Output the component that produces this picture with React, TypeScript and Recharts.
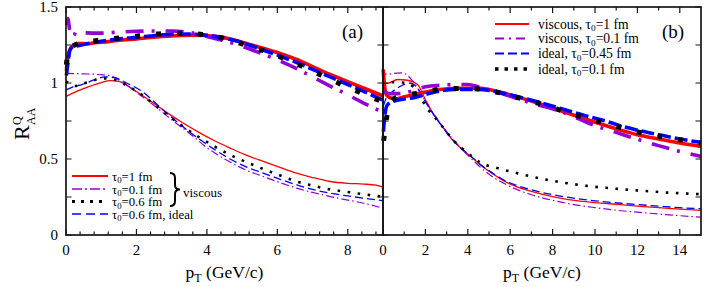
import React from 'react';
import { LineChart, Line, XAxis, YAxis, Legend } from 'recharts';

const FONT = '"Liberation Serif", "Times New Roman", "DejaVu Serif", serif';
const RED = '#ff0000';
const PURPLE = '#9400d3';
const BLUE = '#0000ff';
const BLACK = '#000000';
const FRAME = '#161616';

// ---------- tick labels ----------
const aXTicks = [0, 0.4, 0.8, 1.2, 1.6, 2, 2.4, 2.8, 3.2, 3.6, 4, 4.4, 4.8, 5.2, 5.6, 6, 6.4, 6.8, 7.2, 7.6, 8, 8.4, 8.8];
const aXMajor = [0, 2, 4, 6, 8];
const bXTicks = [0, 1, 2, 3, 4, 5, 6, 7, 8, 9, 10, 11, 12, 13, 14];
const bXMajor = [0, 2, 4, 6, 8, 10, 12, 14];
const yTicks = [0, 0.25, 0.5, 0.75, 1, 1.25, 1.5];
const yMajor = [0, 0.5, 1, 1.5];

// ---------- panel (a) : thick (upper) curves ----------
const aRedHi: [number, number][] = [[0.01, 1.08], [0.05, 1.17], [0.1, 1.215], [0.2, 1.245], [0.35, 1.26], [0.6, 1.258], [0.8, 1.265], [1.2, 1.272], [1.6, 1.283], [2, 1.29], [2.5, 1.302], [3, 1.31], [3.5, 1.315], [3.95, 1.313], [4.3, 1.305], [4.66, 1.29], [5.1, 1.262], [5.6, 1.228], [6.1, 1.192], [6.55, 1.155], [7, 1.108], [7.5, 1.056], [8, 1.008], [8.5, 0.962], [9, 0.915]];
const aPurpleHi: [number, number][] = [[0.02, 1.38], [0.05, 1.424], [0.11, 1.345], [0.21, 1.312], [0.3, 1.34], [0.5, 1.33], [1, 1.328], [1.5, 1.335], [2, 1.34], [2.5, 1.342], [3, 1.342], [3.5, 1.332], [3.95, 1.31], [4.4, 1.283], [4.85, 1.254], [5.23, 1.222], [5.6, 1.19], [6.1, 1.142], [6.55, 1.094], [7, 1.04], [7.5, 0.98], [8, 0.922], [8.45, 0.868], [8.83, 0.825], [9, 0.808]];
const aBlueHi: [number, number][] = [[0.01, 1.05], [0.06, 1.14], [0.11, 1.215], [0.2, 1.24], [0.35, 1.245], [0.6, 1.258], [1, 1.275], [1.58, 1.292], [2, 1.3], [2.53, 1.313], [3, 1.32], [3.5, 1.322], [3.95, 1.315], [4.4, 1.3], [4.8, 1.279], [5.2, 1.25], [5.6, 1.217], [6.1, 1.175], [6.55, 1.135], [7, 1.09], [7.5, 1.04], [8, 0.99], [8.45, 0.945], [8.73, 0.915], [9, 0.888]];
const aBlackHi: [number, number][] = [[0.01, 1.12], [0.05, 1.19], [0.1, 1.225], [0.4, 1.262], [0.9, 1.28], [1.5, 1.296], [2.13, 1.312], [2.74, 1.325], [3.33, 1.327], [3.9, 1.318], [4.55, 1.29], [5.18, 1.243], [5.77, 1.2], [6.34, 1.146], [6.9, 1.089], [7.45, 1.03], [8.02, 0.97], [8.6, 0.913], [9, 0.875]];

// ---------- panel (a) : thin (lower) curves ----------
const aRedLo: [number, number][] = [[0, 0.912], [0.3, 0.945], [0.63, 0.975], [1, 1.003], [1.25, 1.016], [1.5, 1.01], [1.8, 0.975], [2.1, 0.928], [2.5, 0.865], [2.9, 0.8], [3.3, 0.74], [3.8, 0.672], [4.2, 0.622], [4.66, 0.572], [5.1, 0.527], [5.6, 0.484], [6.1, 0.443], [6.55, 0.407], [7, 0.378], [7.5, 0.352], [8, 0.34], [8.45, 0.335], [8.8, 0.328], [9, 0.315]];
const aPurpleLo: [number, number][] = [[0, 1.063], [0.5, 1.06], [0.92, 1.056], [1.3, 1.045], [1.6, 1.005], [1.96, 0.946], [2.53, 0.847], [3, 0.758], [3.5, 0.67], [4, 0.575], [4.66, 0.48], [5.1, 0.428], [5.6, 0.385], [6.1, 0.343], [6.55, 0.308], [7, 0.28], [7.5, 0.253], [8, 0.23], [8.45, 0.209], [9, 0.176]];
const aBlueLo: [number, number][] = [[0, 0.955], [0.2, 0.975], [0.45, 0.99], [0.8, 1.02], [1.1, 1.04], [1.38, 1.035], [1.72, 1.0], [2.15, 0.946], [2.72, 0.83], [3.2, 0.735], [3.7, 0.645], [4.2, 0.565], [4.66, 0.5], [5.1, 0.45], [5.6, 0.407], [6.1, 0.365], [6.55, 0.33], [7, 0.3], [7.5, 0.275], [8, 0.257], [8.45, 0.242], [9, 0.226]];
const aBlackLo: [number, number][] = [[0, 1.012], [0.26, 0.98], [0.54, 1.0], [1.1, 1.03], [1.38, 1.022], [1.68, 0.99], [1.96, 0.952], [2.2, 0.915], [2.43, 0.872], [2.67, 0.828], [3.2, 0.735], [3.7, 0.655], [4.2, 0.585], [4.75, 0.517], [5.2, 0.472], [5.6, 0.434], [6.1, 0.39], [6.55, 0.352], [7, 0.325], [7.5, 0.3], [8, 0.283], [8.45, 0.268], [9, 0.253]];

// ---------- panel (b) : thick curves ----------
const bRedHi: [number, number][] = [[0.01, 1.09], [0.06, 1.0], [0.15, 0.925], [0.3, 0.905], [0.56, 0.895], [1, 0.91], [1.5, 0.925], [2, 0.94], [2.57, 0.955], [3.5, 0.965], [4.6, 0.965], [5.5, 0.94], [6.5, 0.902], [7.5, 0.858], [8.5, 0.812], [9.5, 0.765], [10.5, 0.72], [11.2, 0.69], [12, 0.66], [13, 0.632], [14, 0.605], [15, 0.583]];
const bPurpleHi: [number, number][] = [[0.01, 0.95], [0.3, 0.93], [0.7, 0.93], [1.2, 0.94], [1.6, 0.958], [2, 0.975], [2.7, 0.985], [3.5, 0.99], [4, 0.99], [4.5, 0.975], [5, 0.955], [5.5, 0.935], [6.17, 0.905], [7, 0.868], [8.2, 0.822], [9, 0.778], [10, 0.72], [11, 0.675], [12, 0.63], [13, 0.588], [14, 0.55], [15, 0.517]];
const bBlueHi: [number, number][] = [[0.02, 0.68], [0.08, 0.78], [0.2, 0.855], [0.5, 0.88], [1, 0.895], [1.5, 0.905], [2, 0.925], [2.5, 0.942], [3.5, 0.958], [4.5, 0.958], [5.5, 0.938], [6.5, 0.905], [7.5, 0.868], [8.5, 0.828], [9.5, 0.787], [10.5, 0.75], [11.2, 0.718], [12, 0.69], [13, 0.66], [14, 0.632], [15, 0.609]];
const bBlackHi: [number, number][] = [[0.03, 0.62], [0.1, 0.7], [0.18, 0.78], [0.3, 0.86], [0.56, 0.9], [1, 0.915], [1.52, 0.93], [2.52, 0.955], [3.54, 0.964], [4.56, 0.96], [5.58, 0.933], [6.57, 0.896], [7.54, 0.858], [8.53, 0.814], [9.51, 0.772], [10.5, 0.735], [11.47, 0.697], [12.47, 0.664], [13.48, 0.638], [14.48, 0.616], [15, 0.605]];

// ---------- panel (b) : thin curves ----------
const bRedLo: [number, number][] = [[0.02, 1.06], [0.1, 1.0], [0.22, 0.998], [0.69, 1.023], [1.16, 1.018], [1.63, 0.99], [2.02, 0.885], [2.4, 0.79], [2.73, 0.726], [3.2, 0.638], [3.75, 0.561], [4.14, 0.517], [4.6, 0.46], [5.2, 0.4], [5.7, 0.356], [6.3, 0.318], [7, 0.287], [8, 0.252], [8.84, 0.231], [10, 0.213], [11.2, 0.2], [12, 0.19], [13, 0.18], [14, 0.17], [15, 0.162]];
const bPurpleLo: [number, number][] = [[0.02, 1.02], [0.1, 1.06], [0.22, 1.056], [0.5, 1.063], [0.85, 1.067], [1.16, 1.05], [1.4, 1.012], [1.7, 0.95], [2, 0.88], [2.5, 0.775], [3, 0.68], [3.5, 0.597], [4, 0.525], [4.6, 0.445], [5.2, 0.38], [5.7, 0.34], [6.3, 0.3], [7, 0.265], [8, 0.228], [9, 0.2], [10, 0.18], [11, 0.163], [12, 0.15], [13, 0.138], [14, 0.127], [15, 0.117]];
const bBlueLo: [number, number][] = [[0.02, 0.85], [0.15, 0.9], [0.38, 0.935], [0.85, 0.98], [1.24, 1.0], [1.55, 0.98], [1.94, 0.89], [2.4, 0.79], [2.73, 0.726], [3.2, 0.64], [3.75, 0.563], [4.14, 0.52], [4.6, 0.463], [5.2, 0.405], [5.7, 0.362], [6.3, 0.326], [7, 0.297], [8, 0.265], [9, 0.242], [10, 0.225], [11.2, 0.209], [12, 0.2], [13, 0.19], [14, 0.18], [15, 0.172]];
const bBlackLo: [number, number][] = [[0.02, 0.98], [0.1, 1.0], [0.56, 1.005], [1.08, 1.0], [1.46, 0.97], [1.79, 0.9], [2.1, 0.83], [2.41, 0.78], [2.73, 0.726], [3.04, 0.671], [3.43, 0.607], [3.75, 0.568], [4.14, 0.523], [4.6, 0.476], [5.39, 0.44], [6.33, 0.407], [7.74, 0.363], [9.62, 0.323], [11.66, 0.297], [13, 0.283], [15, 0.268]];

// ---------- legend texts ----------
const legendA = [
  { pre: 'τ', sub: '0', post: '=1 fm' },
  { pre: 'τ', sub: '0', post: '=0.1 fm' },
  { pre: 'τ', sub: '0', post: '=0.6 fm' },
  { pre: 'τ', sub: '0', post: '=0.6 fm, ideal' },
];
const legendB = [
  { pre: 'viscous, τ', sub: '0', post: '=1 fm' },
  { pre: 'viscous, τ', sub: '0', post: '=0.1 fm' },
  { pre: 'ideal, τ', sub: '0', post: '=0.45 fm' },
  { pre: 'ideal, τ', sub: '0', post: '=0.1 fm' },
];

const pts = (arr: [number, number][]) => arr.map(([x, y]) => ({ x, y }));

// plot-area geometry shared by the charts and the frame
const TOP = 7;
const BOTTOM = 235;
const A_LEFT = 66;
const A_RIGHT = 383;
const B_LEFT = 383;
const B_RIGHT = 701;
const A_XMAX = 9;
const B_XMAX = 15;
const Y_MAX = 1.5;

type Style = { stroke: string; width: number; dash?: string };
const thinStyles: Style[] = [
  { stroke: RED, width: 1.3 },
  { stroke: PURPLE, width: 1.2, dash: '8 3 1.5 3' },
  { stroke: BLUE, width: 1.3, dash: '8 4' },
  { stroke: BLACK, width: 2.6, dash: '2.6 7.5' },
];
const thickStyles: Style[] = [
  { stroke: RED, width: 3.6 },
  { stroke: PURPLE, width: 3.6, dash: '18 8 3 11' },
  { stroke: BLUE, width: 3.6, dash: '13 4' },
  { stroke: BLACK, width: 5, dash: '5 16' },
];

const fmtNum = (v: number) => String(Math.round(v * 100) / 100);
const isIn = (arr: number[], v: number) => arr.some((m) => Math.abs(m - v) < 1e-6);

function tickLabel(side: 'bottom' | 'left', majors: number[]) {
  return (props: any) => {
    const x = Number(props.x);
    const y = Number(props.y);
    const v = Number(props.payload?.value);
    if (!isIn(majors, v)) return <g />;
    if (side === 'bottom')
      return (
        <text x={x} y={y + 20} textAnchor="middle" fontFamily={FONT} fontSize={15} fill="#000">
          {fmtNum(v)}
        </text>
      );
    return (
      <text x={x - 8} y={y + 5} textAnchor="end" fontFamily={FONT} fontSize={15} fill="#000">
        {fmtNum(v)}
      </text>
    );
  };
}

const xLabel = (cx: number) => () => (
  <text x={cx} y={278} textAnchor="middle" fontFamily={FONT} fontSize={17.5} fill="#000" style={{ whiteSpace: 'pre' }}>
    <tspan>p</tspan>
    <tspan dy={4} fontSize={12}>T</tspan>
    <tspan dy={-4}> (GeV/c)</tspan>
  </text>
);

const panelTag = (cx: number, txt: string) => () => (
  <text x={cx} y={38} textAnchor="middle" fontFamily={FONT} fontSize={19} fill="#000">
    {txt}
  </text>
);

const yLabel = () => (
  <text transform="translate(29,140) rotate(-90)" fontFamily={FONT} fill="#000">
    <tspan x={0} y={0} fontSize={22}>R</tspan>
    <tspan x={15} y={-8} fontSize={12}>Q</tspan>
    <tspan x={15} y={6} fontSize={12}>AA</tspan>
  </text>
);

function LegendRow({ y, x0, x1, tx, s, t, fs }: { y: number; x0: number; x1: number; tx: number; s: Style; t: { pre: string; sub: string; post: string }; fs: number }) {
  return (
    <g>
      <path d={`M${x0},${y}H${x1}`} stroke={s.stroke} strokeWidth={s.width} strokeDasharray={s.dash} fill="none" />
      <text x={tx} y={y + 4.5} fontFamily={FONT} fontSize={fs} fill="#000" style={{ whiteSpace: 'pre' }}>
        <tspan>{t.pre}</tspan>
        <tspan dy={2.5} fontSize={fs * 0.68}>{t.sub}</tspan>
        <tspan dy={-2.5}>{t.post}</tspan>
      </text>
    </g>
  );
}

const legAStyles: Style[] = [
  { stroke: RED, width: 2 },
  { stroke: PURPLE, width: 1.5, dash: '10 3 2 3' },
  { stroke: BLACK, width: 3, dash: '3 6' },
  { stroke: BLUE, width: 1.5, dash: '9 5' },
];
const legBStyles: Style[] = [
  { stroke: RED, width: 2 },
  { stroke: PURPLE, width: 2, dash: '9 5 2 5' },
  { stroke: BLUE, width: 2, dash: '9 4' },
  { stroke: BLACK, width: 3.5, dash: '3.5 6' },
];

// Frame and inward tick marks of one panel, placed with the same linear mapping as the axes
function PanelFrame({ left, right, xMax, xTicks, xMajor }: { left: number; right: number; xMax: number; xTicks: number[]; xMajor: number[] }) {
  const sx = (v: number) => left + (v / xMax) * (right - left);
  const sy = (v: number) => BOTTOM - (v / Y_MAX) * (BOTTOM - TOP);
  let d = '';
  xTicks.forEach((v) => {
    const L = isIn(xMajor, v) ? 6 : 3.5;
    const x = sx(v);
    d += `M${x},${BOTTOM}V${BOTTOM - L}M${x},${TOP}V${TOP + L}`;
  });
  yTicks.forEach((t) => {
    const y = sy(t);
    d += `M${left},${y}H${left + 5.5}M${right},${y}H${right - 5.5}`;
  });
  return (
    <g>
      <path d={d} stroke={FRAME} strokeWidth={1.2} fill="none" />
      <rect x={left} y={TOP} width={right - left} height={BOTTOM - TOP} fill="none" stroke={FRAME} strokeWidth={1.7} />
    </g>
  );
}

const LegendA = () => {
  const rows = [10, 23, 35.5, 48];
  return (
    <svg width={170} height={60} style={{ display: 'block', overflow: 'visible' }}>
      {legendA.map((t, i) => (
        <LegendRow key={i} y={rows[i]} x0={6} x1={42} tx={46} s={legAStyles[i]} t={t} fs={12.8} />
      ))}
      <path d="M104,7 Q109,7 109,12 L109,19 Q109,23.5 114,23.5 Q109,23.5 109,28 L109,35 Q109,40 104,40" fill="none" stroke="#000" strokeWidth={2} />
      <text x={117} y={31} fontFamily={FONT} fontSize={13} fill="#000">viscous</text>
    </svg>
  );
};

const LegendB = () => {
  const rows = [12, 26.5, 41.5, 57];
  return (
    <svg width={210} height={66} style={{ display: 'block', overflow: 'visible' }}>
      {legendB.map((t, i) => (
        <LegendRow key={i} y={rows[i]} x0={5} x1={39} tx={48} s={legBStyles[i]} t={t} fs={13.6} />
      ))}
    </svg>
  );
};

function Panel(props: {
  marginLeft: number;
  marginRight: number;
  yWidth: number;
  xMax: number;
  xTicks: number[];
  xMajor: number[];
  yLabelled: boolean;
  lo: [number, number][][];
  hi: [number, number][][];
  xLabelCx: number;
  tagCx: number;
  tag: string;
  legend: React.ReactNode;
  legendPos: { left: number; top: number; width: number; height: number };
  withYLabel: boolean;
}) {
  const p = props;
  return (
    <LineChart width={706} height={287} margin={{ top: TOP - 1, right: p.marginRight, bottom: 0, left: p.marginLeft }}>
      <XAxis
        xAxisId="b"
        dataKey="x"
        type="number"
        domain={[0, p.xMax]}
        ticks={p.xTicks}
        interval={0}
        height={287 - BOTTOM}
        tickSize={0}
        tickMargin={0}
        tickLine={false}
        axisLine={false}
        tick={tickLabel('bottom', p.xMajor)}
        label={xLabel(p.xLabelCx)}
      />
      <XAxis
        xAxisId="t"
        orientation="top"
        dataKey="x"
        type="number"
        domain={[0, p.xMax]}
        ticks={p.xTicks}
        interval={0}
        height={1}
        tickSize={0}
        tickMargin={0}
        tickLine={false}
        axisLine={false}
        tick={false}
        label={panelTag(p.tagCx, p.tag)}
      />
      <YAxis
        yAxisId="l"
        type="number"
        domain={[0, Y_MAX]}
        ticks={yTicks}
        interval={0}
        width={p.yWidth}
        tickSize={0}
        tickMargin={0}
        tickLine={false}
        axisLine={false}
        tick={p.yLabelled ? tickLabel('left', yMajor) : false}
        label={p.withYLabel ? yLabel : undefined}
      />
      <Legend
        layout="horizontal"
        verticalAlign="middle"
        align="center"
        wrapperStyle={{ ...p.legendPos, position: 'absolute', pointerEvents: 'none' }}
        content={() => p.legend}
      />
      {p.lo.map((d, i) => (
        <Line
          key={'lo' + i}
          xAxisId="b"
          yAxisId="l"
          data={pts(d)}
          dataKey="y"
          type="monotone"
          stroke={thinStyles[i].stroke}
          strokeWidth={thinStyles[i].width}
          strokeDasharray={thinStyles[i].dash}
          dot={false}
          activeDot={false}
          isAnimationActive={false}
        />
      ))}
      {p.hi.map((d, i) => (
        <Line
          key={'hi' + i}
          xAxisId="b"
          yAxisId="l"
          data={pts(d)}
          dataKey="y"
          type="monotone"
          stroke={thickStyles[i].stroke}
          strokeWidth={thickStyles[i].width}
          strokeDasharray={thickStyles[i].dash}
          dot={false}
          activeDot={false}
          isAnimationActive={false}
        />
      ))}
    </LineChart>
  );
}

export default function App() {
  return (
    <div style={{ position: 'absolute', left: 0, top: 0, width: 706, height: 287, background: '#fff', overflow: 'hidden' }}>
      <div style={{ position: 'absolute', left: 0, top: 0 }}>
        <Panel
          marginLeft={0}
          marginRight={706 - A_RIGHT}
          yWidth={A_LEFT}
          xMax={A_XMAX}
          xTicks={aXTicks}
          xMajor={aXMajor}
          yLabelled={true}
          lo={[aRedLo, aPurpleLo, aBlueLo, aBlackLo]}
          hi={[aRedHi, aPurpleHi, aBlueHi, aBlackHi]}
          xLabelCx={(A_LEFT + A_RIGHT) / 2}
          tagCx={352.5}
          tag="(a)"
          legend={<LegendA />}
          legendPos={{ left: 66, top: 166, width: 170, height: 60 }}
          withYLabel={true}
        />
      </div>
      <div style={{ position: 'absolute', left: 0, top: 0 }}>
        <Panel
          marginLeft={B_LEFT - 1}
          marginRight={706 - B_RIGHT}
          yWidth={1}
          xMax={B_XMAX}
          xTicks={bXTicks}
          xMajor={bXMajor}
          yLabelled={false}
          lo={[bRedLo, bPurpleLo, bBlueLo, bBlackLo]}
          hi={[bRedHi, bPurpleHi, bBlueHi, bBlackHi]}
          xLabelCx={(B_LEFT + B_RIGHT) / 2}
          tagCx={673}
          tag="(b)"
          legend={<LegendB />}
          legendPos={{ left: 490, top: 12, width: 210, height: 66 }}
          withYLabel={false}
        />
      </div>
      <svg width={706} height={287} style={{ position: 'absolute', left: 0, top: 0, pointerEvents: 'none', zIndex: 5 }}>
        <PanelFrame left={A_LEFT} right={A_RIGHT} xMax={A_XMAX} xTicks={aXTicks} xMajor={aXMajor} />
        <PanelFrame left={B_LEFT} right={B_RIGHT} xMax={B_XMAX} xTicks={bXTicks} xMajor={bXMajor} />
      </svg>
    </div>
  );
}
